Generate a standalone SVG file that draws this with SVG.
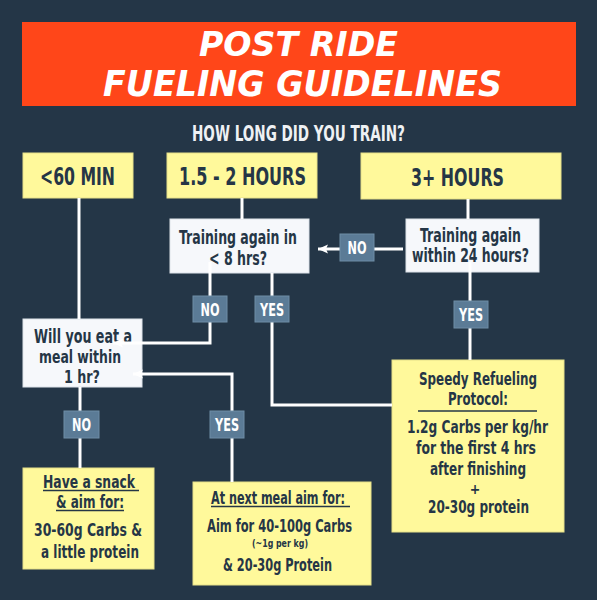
<svg xmlns="http://www.w3.org/2000/svg" width="597" height="600" viewBox="0 0 597 600">
<defs>
<style>
.bg{fill:#243647}
.title{fill:#FF4619}
.y{fill:#FFF99B;stroke:#E6E08A;stroke-width:1}
.w{fill:#F6F8FB;stroke:#DDE3EA;stroke-width:1}
.lb{fill:#5B7B96;stroke:#6E8DA6;stroke-width:1}
text{font-family:"Liberation Sans Narrow","DejaVu Sans Condensed","Liberation Sans",sans-serif;font-weight:bold;fill:#253646;text-anchor:middle}
.h{font-size:24px}
.q{font-size:19px}
.q2{font-size:17px}
.b{font-size:18px}
.s{font-size:17px}
.tiny{font-size:10px}
.lt{font-size:18px;fill:#FFFFFF}
.tt{font-family:"DejaVu Sans","Liberation Sans",sans-serif;font-weight:900;font-style:italic;fill:#FFFFFF}
.sub{font-size:21px;fill:#EEF1F4}
.c{fill:none;stroke:#FFFFFF;stroke-width:3}
.ul{stroke:#253646;stroke-width:1.6}
</style>
<marker id="ah" markerUnits="userSpaceOnUse" markerWidth="12" markerHeight="12" viewBox="0 0 12 12" refX="11" refY="6" orient="auto">
<path d="M1,1.5 L11,6 L1,10.5 L3,6 z" fill="#FFFFFF"/>
</marker>
</defs>
<rect class="bg" x="0" y="0" width="597" height="600"/>
<g id="title">
<rect class="title" x="22" y="22" width="554" height="84"/>
<text class="tt" x="298.5" y="56" font-size="33" textLength="199" lengthAdjust="spacingAndGlyphs">POST RIDE</text>
<text class="tt" x="302.5" y="96" font-size="36" textLength="399" lengthAdjust="spacingAndGlyphs">FUELING GUIDELINES</text>
</g>
<g id="question">
<text class="sub" x="298.5" y="141" textLength="213" lengthAdjust="spacingAndGlyphs">HOW LONG DID YOU TRAIN?</text>
</g>
<g id="n-60min">
<rect class="y" x="23" y="153" width="110" height="45"/>
<text class="h" x="77.5" y="185" textLength="75" lengthAdjust="spacingAndGlyphs">&lt;60 MIN</text>
</g>
<g id="n-15hours">
<rect class="y" x="167" y="153" width="150" height="45"/>
<text class="h" x="242.5" y="185" textLength="127" lengthAdjust="spacingAndGlyphs">1.5 - 2 HOURS</text>
</g>
<g id="n-3hours">
<rect class="y" x="361" y="153" width="200" height="46"/>
<text class="h" x="457.5" y="186" textLength="93" lengthAdjust="spacingAndGlyphs">3+ HOURS</text>
</g>
<g id="n-train8">
<rect class="w" x="170" y="219" width="139" height="54"/>
<text class="q" x="238" y="244" textLength="118" lengthAdjust="spacingAndGlyphs">Training again in</text>
<text class="q" x="238" y="265" textLength="58" lengthAdjust="spacingAndGlyphs">&lt; 8 hrs?</text>
</g>
<g id="n-train24">
<rect class="w" x="406" y="219" width="133" height="53"/>
<text class="q" x="470.5" y="242" textLength="101" lengthAdjust="spacingAndGlyphs">Training again</text>
<text class="q" x="470.5" y="262" textLength="117" lengthAdjust="spacingAndGlyphs">within 24 hours?</text>
</g>
<g id="n-meal">
<rect class="w" x="23" y="319" width="119" height="68"/>
<text class="q" x="83" y="343" textLength="98" lengthAdjust="spacingAndGlyphs">Will you eat a</text>
<text class="q2" x="80" y="363" textLength="82" lengthAdjust="spacingAndGlyphs">meal within</text>
<text class="q2" x="82" y="383" textLength="36" lengthAdjust="spacingAndGlyphs">1 hr?</text>
</g>
<g id="n-snack">
<rect class="y" x="23" y="468" width="131" height="101"/>
<text class="b" x="89" y="488" textLength="92" lengthAdjust="spacingAndGlyphs">Have a snack</text>
<line class="ul" x1="43" y1="490.5" x2="139" y2="490.5"/>
<text class="b" x="90" y="508" textLength="68" lengthAdjust="spacingAndGlyphs">&amp; aim for:</text>
<line class="ul" x1="56" y1="510.5" x2="124" y2="510.5"/>
<text class="b" x="88" y="536" textLength="108" lengthAdjust="spacingAndGlyphs">30-60g Carbs &amp;</text>
<text class="b" x="90" y="558" textLength="98" lengthAdjust="spacingAndGlyphs">a little protein</text>
</g>
<g id="n-nextmeal">
<rect class="y" x="193" y="482" width="178" height="103"/>
<text class="s" x="278" y="504" textLength="134" lengthAdjust="spacingAndGlyphs">At next meal aim for:</text>
<line class="ul" x1="211" y1="506.5" x2="350" y2="506.5"/>
<text class="s" x="279.5" y="532" textLength="145" lengthAdjust="spacingAndGlyphs">Aim for 40-100g Carbs</text>
<text class="tiny" x="280" y="547" textLength="56" lengthAdjust="spacingAndGlyphs">(~1g per kg)</text>
<text class="s" x="277.5" y="571" textLength="109" lengthAdjust="spacingAndGlyphs">&amp; 20-30g Protein</text>
</g>
<g id="n-speedy">
<rect class="y" x="392" y="360" width="172" height="172"/>
<text class="b" x="478" y="385" textLength="118" lengthAdjust="spacingAndGlyphs">Speedy Refueling</text>
<text class="b" x="478" y="405" textLength="60" lengthAdjust="spacingAndGlyphs">Protocol:</text>
<line class="ul" x1="418" y1="411" x2="537" y2="411"/>
<text class="b" x="477.5" y="433" textLength="141" lengthAdjust="spacingAndGlyphs">1.2g Carbs per kg/hr</text>
<text class="b" x="476" y="454" textLength="120" lengthAdjust="spacingAndGlyphs">for the first 4 hrs</text>
<text class="b" x="478" y="475" textLength="96" lengthAdjust="spacingAndGlyphs">after finishing</text>
<text x="475" y="494" font-size="14">+</text>
<text class="b" x="478.5" y="513" textLength="101" lengthAdjust="spacingAndGlyphs">20-30g protein</text>
</g>
<g id="connectors">
<path class="c" d="M79,198 V319"/>
<path class="c" d="M242,198 V219"/>
<path class="c" d="M468,199 V219"/>
<path class="c" d="M403,249 H318" marker-end="url(#ah)"/>
<path class="c" d="M210,262 V343 H113" marker-end="url(#ah)"/>
<path class="c" d="M272,273 V405 H392"/>
<path class="c" d="M470,262 V360"/>
<path class="c" d="M80,387 V468"/>
<path class="c" d="M232,482 V374 H133" marker-end="url(#ah)"/>
</g>
<g id="l-no1"><rect class="lb" x="193" y="296" width="34" height="26"/><text class="lt" x="210" y="315.5" textLength="19" lengthAdjust="spacingAndGlyphs">NO</text></g>
<g id="l-yes1"><rect class="lb" x="255" y="296" width="34" height="26"/><text class="lt" x="272" y="315.5" textLength="24" lengthAdjust="spacingAndGlyphs">YES</text></g>
<g id="l-no2"><rect class="lb" x="340" y="234" width="34" height="27"/><text class="lt" x="357" y="254" textLength="19" lengthAdjust="spacingAndGlyphs">NO</text></g>
<g id="l-yes2"><rect class="lb" x="454" y="301" width="34" height="27"/><text class="lt" x="471" y="321" textLength="24" lengthAdjust="spacingAndGlyphs">YES</text></g>
<g id="l-no3"><rect class="lb" x="64" y="411" width="35" height="27"/><text class="lt" x="81.5" y="431" textLength="19" lengthAdjust="spacingAndGlyphs">NO</text></g>
<g id="l-yes3"><rect class="lb" x="210" y="411" width="34" height="27"/><text class="lt" x="227" y="431" textLength="24" lengthAdjust="spacingAndGlyphs">YES</text></g>
</svg>
